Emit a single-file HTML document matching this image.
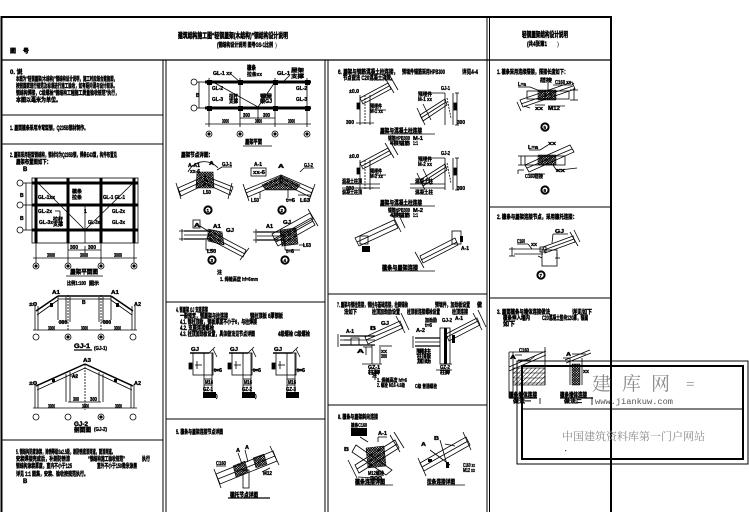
<!DOCTYPE html>
<html><head><meta charset="utf-8">
<style>
html,body{margin:0;padding:0;background:#fff;width:749px;height:530px;overflow:hidden}
svg{display:block}
.t{font-family:"Liberation Sans","Noto Sans CJK SC",sans-serif;font-weight:bold;font-size:6px;fill:#000;stroke:#000;stroke-width:0.4}
.s{font-size:5px;stroke-width:0.35}
.b{font-size:7.5px;stroke-width:0.5}
</style></head><body>
<svg width="749" height="530" viewBox="0 0 749 530" xmlns="http://www.w3.org/2000/svg">
<defs>
<pattern id="x" width="2.5" height="2.5" patternUnits="userSpaceOnUse"><path d="M0 0L2.5 2.5M2.5 0L0 2.5" stroke="#000" stroke-width="0.8"/></pattern>
<pattern id="h" width="3" height="3" patternUnits="userSpaceOnUse" patternTransform="rotate(45)"><line x1="0" y1="0" x2="0" y2="3" stroke="#000" stroke-width="1"/></pattern>
<g id="colA" fill="none" stroke="#000" stroke-width="0.8">
<line x1="0" y1="0" x2="0" y2="30"/><line x1="10" y1="0" x2="10" y2="30"/><line x1="5" y1="0" x2="5" y2="30" stroke-dasharray="2 1"/>
<polygon points="0,3 28,-12 31,-6 3,9"/><line x1="2" y1="6" x2="29" y2="-9"/>
<line x1="25" y1="-17" x2="34" y2="-2"/><line x1="30" y1="-19" x2="38" y2="-5"/>
<line x1="-4" y1="28" x2="14" y2="28"/><line x1="10" y1="15" x2="26" y2="15"/>
<rect x="-3" y="8" width="2.5" height="6" fill="#000"/>
</g>
<g id="colB" fill="none" stroke="#000" stroke-width="0.8">
<line x1="0" y1="0" x2="0" y2="32"/><line x1="8" y1="0" x2="8" y2="32"/>
<polygon points="-25,22 0,6 2,12 -22,28"/><line x1="-24" y1="25" x2="1" y2="9"/>
<line x1="-28" y1="15" x2="-20" y2="32"/><line x1="-22" y1="11" x2="-14" y2="27"/>
<line x1="12" y1="0" x2="12" y2="32"/><line x1="10" y1="0" x2="14" y2="0"/><line x1="10" y1="32" x2="14" y2="32"/>
<line x1="-20" y1="0" x2="0" y2="0"/><rect x="9" y="10" width="2.5" height="7" fill="#000"/>
<line x1="2" y1="5" x2="6" y2="25" stroke-dasharray="2 1"/>
</g>
<g id="cap" fill="none" stroke="#000" stroke-width="0.8">
<rect x="0" y="0" width="20" height="22"/>
<line x1="11" y1="0" x2="11" y2="40"/><line x1="19" y1="0" x2="19" y2="40"/>
<line x1="-3" y1="0" x2="16" y2="0" stroke-width="1.5"/>
<line x1="16" y1="0" x2="22" y2="-6"/><line x1="20" y1="-4" x2="24" y2="4"/>
<line x1="4" y1="8" x2="4" y2="16"/><line x1="2" y1="12" x2="9" y2="12"/>
<line x1="19" y1="17" x2="26" y2="17"/>
<line x1="11" y1="26" x2="19" y2="26"/><line x1="11" y1="32" x2="19" y2="32"/>
<rect x="-4" y="10" width="3" height="6" fill="#000"/>
</g>
</defs>

<!-- FRAME -->
<g fill="none" stroke="#000">
<path d="M1.5 512V17H611V512" stroke-width="2"/>
<line x1="1.5" y1="60" x2="611" y2="60" stroke-width="1.2"/>
<line x1="163" y1="60" x2="163" y2="512" stroke-width="1"/>
<line x1="166" y1="60" x2="166" y2="512" stroke-width="1"/>
<line x1="325" y1="60" x2="325" y2="512" stroke-width="1"/>
<line x1="328" y1="60" x2="328" y2="512" stroke-width="1"/>
<line x1="487" y1="17" x2="487" y2="512" stroke-width="1"/>
<line x1="489.5" y1="17" x2="489.5" y2="512" stroke-width="1"/>
<line x1="1.5" y1="115" x2="163" y2="115"/>
<line x1="1.5" y1="144" x2="163" y2="144"/>
<line x1="1.5" y1="440" x2="163" y2="440"/>
<line x1="166" y1="302" x2="325" y2="302"/>
<line x1="166" y1="419" x2="325" y2="419"/>
<line x1="328" y1="294" x2="487" y2="294"/>
<line x1="328" y1="405" x2="487" y2="405"/>
<line x1="489.5" y1="207" x2="611" y2="207"/>
<line x1="489.5" y1="298" x2="611" y2="298"/>
</g>

<!-- TITLE TEXT -->
<g class="t">
<text x="178" y="38" class="b" textLength="110" lengthAdjust="spacingAndGlyphs">建筑结构施工图“轻钢屋架(木结构)”钢结构设计说明</text>
<text x="217" y="47" textLength="56" lengthAdjust="spacingAndGlyphs">(钢结构设计说明 图号GS-1比例</text>
<text x="275" y="47" font-weight="normal" stroke-width="0">)</text>
<text x="10" y="53">图</text><text x="23" y="53">号</text>
<text x="522" y="37" class="b" textLength="46" lengthAdjust="spacingAndGlyphs">轻钢屋架结构设计说明</text>
<text x="527" y="46" textLength="20" lengthAdjust="spacingAndGlyphs">(共4张第1</text>
<text x="557" y="46" font-weight="normal" stroke-width="0">)</text>
</g>

<!-- LEFT COLUMN TEXT -->
<g class="t">
<text x="10" y="74">0. 说</text>
<text x="16" y="81" textLength="101" lengthAdjust="spacingAndGlyphs">本图为“轻钢屋架(木结构)”钢结构设计说明，施工时应结合建施图，</text>
<text x="16" y="88" textLength="101" lengthAdjust="spacingAndGlyphs">按照国家现行规范及标准进行施工验收，如有疑问请与设计联系。</text>
<text x="16" y="95" textLength="103" lengthAdjust="spacingAndGlyphs">钢结构焊接，C级螺栓“钢结构工程施工质量验收规范”执行，</text>
<text x="16" y="102" textLength="45" lengthAdjust="spacingAndGlyphs">本图以毫米为单位。</text>
<text x="10" y="130" textLength="78" lengthAdjust="spacingAndGlyphs">1. 屋面檩条采用冷弯型钢，Q235B钢材制作。</text>
<text x="10" y="157" textLength="107" lengthAdjust="spacingAndGlyphs">2. 屋架采用轻型钢结构，钢材均为Q235B钢，焊条E43型，构件布置见</text>
<text x="16" y="164" textLength="35" lengthAdjust="spacingAndGlyphs">屋架布置图如下：</text>
<text x="23" y="171">B</text>
</g>

<!-- LEFT PLAN -->
<g fill="none" stroke="#000" stroke-width="0.8">
<rect x="32" y="178" width="106" height="65"/>
<g stroke-width="3">
<line x1="32" y1="183" x2="138" y2="183"/><line x1="32" y1="205" x2="138" y2="205"/><line x1="32" y1="230" x2="138" y2="230"/>
<line x1="36" y1="178" x2="36" y2="243"/><line x1="68" y1="178" x2="68" y2="243"/><line x1="101" y1="178" x2="101" y2="243"/><line x1="134" y1="178" x2="134" y2="243"/>
</g>
<line x1="38" y1="183" x2="85" y2="230"/><line x1="133" y1="183" x2="85" y2="230"/>
<line x1="85" y1="205" x2="85" y2="243"/>
<circle cx="20" cy="183" r="3"/><circle cx="20" cy="205" r="3"/><circle cx="20" cy="230" r="3"/>
<line x1="23" y1="183" x2="32" y2="183"/><line x1="23" y1="205" x2="32" y2="205"/><line x1="23" y1="230" x2="32" y2="230"/>
<line x1="26" y1="183" x2="26" y2="230"/>
<line x1="36" y1="243" x2="36" y2="263"/><line x1="68" y1="243" x2="68" y2="263"/><line x1="101" y1="243" x2="101" y2="263"/><line x1="134" y1="243" x2="134" y2="263"/>
<line x1="68" y1="250" x2="101" y2="250"/><line x1="85" y1="246" x2="85" y2="253"/>
<line x1="33" y1="258" x2="137" y2="258"/>
<circle cx="36" cy="266" r="3"/><circle cx="68" cy="266" r="3"/><circle cx="101" cy="266" r="3"/><circle cx="134" cy="266" r="3"/>
<line x1="55" y1="211" x2="60" y2="211"/><line x1="60" y1="211" x2="60" y2="222"/>
<line x1="66" y1="276" x2="103" y2="276"/>
</g>
<g fill="#000">
<circle cx="36" cy="266" r="1.6"/><circle cx="68" cy="266" r="1.6"/><circle cx="101" cy="266" r="1.6"/><circle cx="134" cy="266" r="1.6"/>
</g>
<g class="t s">
<text x="38" y="199" textLength="17" lengthAdjust="spacingAndGlyphs">GL-1xx</text>
<text x="72" y="193" textLength="10" lengthAdjust="spacingAndGlyphs">檩条</text>
<text x="72" y="199" textLength="10" lengthAdjust="spacingAndGlyphs">拉条</text>
<text x="103" y="199" textLength="22" lengthAdjust="spacingAndGlyphs">GL-1 GL-1</text>
<text x="38" y="213" textLength="14" lengthAdjust="spacingAndGlyphs">GL-2x</text>
<text x="84" y="213">1</text>
<text x="39" y="224" textLength="14" lengthAdjust="spacingAndGlyphs">GL-3x</text>
<text x="53" y="221" textLength="10" lengthAdjust="spacingAndGlyphs">拉杆</text>
<text x="53" y="226" textLength="10" lengthAdjust="spacingAndGlyphs">支撑</text>
<text x="88" y="224" textLength="12" lengthAdjust="spacingAndGlyphs">GL-3x</text>
<text x="112" y="213" textLength="13" lengthAdjust="spacingAndGlyphs">GL-2x</text>
<text x="112" y="224" textLength="13" lengthAdjust="spacingAndGlyphs">GL-3x</text>
<text x="20" y="197">B</text><text x="20" y="220">B</text>
<text x="70" y="249" textLength="8" lengthAdjust="spacingAndGlyphs">300</text>
<text x="88" y="249" textLength="8" lengthAdjust="spacingAndGlyphs">300</text>
<text x="47" y="257" textLength="8" lengthAdjust="spacingAndGlyphs">3000</text>
<text x="80" y="257" textLength="8" lengthAdjust="spacingAndGlyphs">3000</text>
<text x="114" y="257" textLength="8" lengthAdjust="spacingAndGlyphs">3000</text>
</g>
<g class="t">
<text x="70" y="274" textLength="28" lengthAdjust="spacingAndGlyphs">屋架平面图</text>
<text x="67" y="285" class="s" textLength="19" lengthAdjust="spacingAndGlyphs">比例1:100</text>
<text x="89" y="285" class="s" textLength="10" lengthAdjust="spacingAndGlyphs">图示</text>
</g>

<!-- ELEVATION 1 -->
<g fill="none" stroke="#000" stroke-width="0.8">
<line x1="58" y1="296" x2="111" y2="296" stroke-width="1.5"/><line x1="58" y1="299" x2="111" y2="299"/>
<line x1="36" y1="311" x2="58" y2="296" stroke-width="1.5"/><line x1="37" y1="315" x2="58" y2="300"/>
<line x1="111" y1="296" x2="133" y2="311" stroke-width="1.5"/><line x1="111" y1="300" x2="132" y2="315"/>
<line x1="35" y1="306" x2="35" y2="330"/><line x1="38" y1="306" x2="38" y2="330"/>
<line x1="132" y1="306" x2="132" y2="330"/><line x1="135" y1="306" x2="135" y2="330"/>
<line x1="66" y1="297" x2="66" y2="322"/><line x1="70" y1="297" x2="70" y2="322"/><line x1="68" y1="295" x2="68" y2="330" stroke-dasharray="2 1"/>
<line x1="99" y1="297" x2="99" y2="322"/><line x1="103" y1="297" x2="103" y2="322"/><line x1="101" y1="295" x2="101" y2="330" stroke-dasharray="2 1"/>
<line x1="58" y1="296" x2="58" y2="320"/><line x1="111" y1="296" x2="111" y2="320"/>
<line x1="33" y1="330" x2="137" y2="330"/>
<circle cx="36" cy="337" r="3"/><circle cx="68" cy="337" r="3"/><circle cx="101" cy="337" r="3"/><circle cx="133" cy="337" r="3"/>
<line x1="58" y1="322" x2="68" y2="322"/><line x1="101" y1="322" x2="111" y2="322"/>
<line x1="74" y1="350" x2="92" y2="350" stroke-width="1.2"/>
</g>
<g fill="#000"><circle cx="68" cy="337" r="1.6"/><circle cx="101" cy="337" r="1.6"/><rect x="50" y="303" width="3" height="4"/><rect x="116" y="303" width="3" height="4"/></g>
<g class="t s">
<text x="52" y="294" textLength="8" lengthAdjust="spacingAndGlyphs">A1</text>
<text x="111" y="294" textLength="8" lengthAdjust="spacingAndGlyphs">A1</text>
<text x="29" y="306" textLength="8" lengthAdjust="spacingAndGlyphs">±0</text>
<text x="134" y="306" textLength="7" lengthAdjust="spacingAndGlyphs">A2</text>
<text x="82" y="304">B</text>
<text x="59" y="324" textLength="8" lengthAdjust="spacingAndGlyphs">300</text>
<text x="103" y="324" textLength="8" lengthAdjust="spacingAndGlyphs">300</text>
<text x="48" y="330" textLength="7" lengthAdjust="spacingAndGlyphs">3000</text>
<text x="81" y="330" textLength="7" lengthAdjust="spacingAndGlyphs">3000</text>
<text x="114" y="330" textLength="7" lengthAdjust="spacingAndGlyphs">3000</text>
<text x="94" y="350" textLength="13" lengthAdjust="spacingAndGlyphs">(GJ-1)</text>
</g>
<g class="t"><text x="74" y="348" textLength="16" lengthAdjust="spacingAndGlyphs">GJ-1</text></g>

<!-- ELEVATION 2 -->
<g fill="none" stroke="#000" stroke-width="0.8">
<line x1="36" y1="386" x2="85" y2="364" stroke-width="1.5"/><line x1="37" y1="390" x2="85" y2="368"/>
<line x1="85" y1="364" x2="133" y2="386" stroke-width="1.5"/><line x1="85" y1="368" x2="132" y2="390"/>
<line x1="85" y1="364" x2="85" y2="410" stroke-dasharray="2 1"/>
<line x1="66" y1="374" x2="66" y2="402"/><line x1="70" y1="372" x2="70" y2="402"/>
<line x1="99" y1="372" x2="99" y2="402"/><line x1="103" y1="374" x2="103" y2="402"/>
<line x1="35" y1="384" x2="35" y2="408"/><line x1="38" y1="384" x2="38" y2="408"/>
<line x1="131" y1="384" x2="131" y2="408"/><line x1="134" y1="384" x2="134" y2="408"/>
<line x1="68" y1="402" x2="101" y2="402"/>
<line x1="33" y1="408" x2="137" y2="408"/>
<circle cx="36" cy="417" r="3"/><circle cx="68" cy="417" r="3"/><circle cx="101" cy="417" r="3"/><circle cx="133" cy="417" r="3"/>
<line x1="70" y1="376" x2="78" y2="376"/>
</g>
<g fill="#000"><circle cx="101" cy="417" r="1.6"/><rect x="52" y="379" width="3" height="3"/><rect x="114" y="379" width="3" height="3"/></g>
<g class="t s">
<text x="83" y="362" textLength="8" lengthAdjust="spacingAndGlyphs">A3</text>
<text x="72" y="378" textLength="6" lengthAdjust="spacingAndGlyphs">A2</text>
<text x="29" y="385" textLength="8" lengthAdjust="spacingAndGlyphs">±0</text>
<text x="134" y="385" textLength="7" lengthAdjust="spacingAndGlyphs">A2</text>
<text x="73" y="401" textLength="6" lengthAdjust="spacingAndGlyphs">300</text>
<text x="90" y="401" textLength="7" lengthAdjust="spacingAndGlyphs">300</text>
<text x="48" y="408" textLength="7" lengthAdjust="spacingAndGlyphs">3000</text>
<text x="82" y="408" textLength="7" lengthAdjust="spacingAndGlyphs">3000</text>
<text x="115" y="408" textLength="7" lengthAdjust="spacingAndGlyphs">3000</text>
<text x="94" y="431" textLength="13" lengthAdjust="spacingAndGlyphs">(GJ-2)</text>
</g>
<g class="t"><text x="74" y="426" textLength="14" lengthAdjust="spacingAndGlyphs">GJ-2</text><text x="74" y="432" textLength="17" lengthAdjust="spacingAndGlyphs">剖面图</text></g>

<!-- LEFT SECTION 5 TEXT -->
<g class="t">
<text x="16" y="454" textLength="99" lengthAdjust="spacingAndGlyphs">5. 钢结构防腐涂装，除锈等级Sa2.5级，刷防锈底漆两道，面漆两道。</text>
<text x="16" y="461" textLength="54" lengthAdjust="spacingAndGlyphs">安装焊接完成后，补刷防锈漆</text>
<text x="88" y="461" textLength="37" lengthAdjust="spacingAndGlyphs">“钢结构施工验收规范”</text>
<text x="142" y="461" textLength="8" lengthAdjust="spacingAndGlyphs">执行</text>
<text x="16" y="468" textLength="56" lengthAdjust="spacingAndGlyphs">钢结构涂装厚度，室内不小于125</text>
<text x="97" y="468" textLength="40" lengthAdjust="spacingAndGlyphs">室外不小于150微米涂层</text>
<text x="16" y="476" textLength="72" lengthAdjust="spacingAndGlyphs">详见 1:1 图集，安装、验收按规范执行。</text>
<text x="23" y="483">B</text>
</g>

<!-- MIDDLE TOP PLAN -->
<g fill="none" stroke="#000" stroke-width="0.8">
<line x1="205" y1="82" x2="311" y2="82" stroke-width="3"/><line x1="205" y1="108" x2="311" y2="108" stroke-width="3"/>
<line x1="209" y1="78" x2="209" y2="127"/><line x1="240" y1="78" x2="240" y2="127"/><line x1="275" y1="78" x2="275" y2="127"/><line x1="307" y1="78" x2="307" y2="127"/>
<line x1="213" y1="82" x2="258" y2="107"/><line x1="275" y1="82" x2="258" y2="107"/>
<circle cx="194" cy="82" r="3"/><circle cx="194" cy="108" r="3"/>
<line x1="197" y1="82" x2="205" y2="82"/><line x1="197" y1="108" x2="205" y2="108"/>
<line x1="199" y1="82" x2="199" y2="108"/>
<line x1="240" y1="118" x2="275" y2="118"/><line x1="258" y1="108" x2="258" y2="122"/>
<line x1="205" y1="124" x2="311" y2="124"/>
<circle cx="209" cy="134" r="3"/><circle cx="240" cy="134" r="3"/><circle cx="275" cy="134" r="3"/><circle cx="307" cy="134" r="3"/>
<line x1="243" y1="146" x2="272" y2="146"/>
<line x1="232" y1="75" x2="240" y2="82"/><line x1="290" y1="75" x2="283" y2="82"/>
</g>
<g fill="#000">
<rect x="207" y="80" width="5" height="5"/><rect x="238" y="80" width="5" height="5"/><rect x="273" y="80" width="5" height="5"/><rect x="305" y="80" width="5" height="5"/>
<rect x="207" y="106" width="5" height="5"/><rect x="238" y="106" width="5" height="5"/><rect x="273" y="106" width="5" height="5"/><rect x="305" y="106" width="5" height="5"/>
<circle cx="209" cy="134" r="1.6"/><circle cx="240" cy="134" r="1.6"/><circle cx="275" cy="134" r="1.6"/><circle cx="307" cy="134" r="1.6"/>
</g>
<g class="t s">
<text x="213" y="75" textLength="19" lengthAdjust="spacingAndGlyphs">GL-1 xx</text>
<text x="247" y="70" class="t" textLength="9" lengthAdjust="spacingAndGlyphs">檩条</text>
<text x="247" y="76" textLength="15" lengthAdjust="spacingAndGlyphs">拉条xx</text>
<text x="277" y="75" textLength="13" lengthAdjust="spacingAndGlyphs">GL-1</text>
<text x="291" y="72" textLength="13" lengthAdjust="spacingAndGlyphs">屋架</text>
<text x="291" y="78" textLength="13" lengthAdjust="spacingAndGlyphs">支撑</text>
<text x="212" y="90" textLength="11" lengthAdjust="spacingAndGlyphs">GL-2</text>
<text x="296" y="90" textLength="11" lengthAdjust="spacingAndGlyphs">GL-2</text>
<text x="212" y="101" textLength="11" lengthAdjust="spacingAndGlyphs">GL-3</text>
<text x="229" y="98" textLength="9" lengthAdjust="spacingAndGlyphs">拉杆</text>
<text x="229" y="103" textLength="9" lengthAdjust="spacingAndGlyphs">支撑</text>
<text x="260" y="98" textLength="12" lengthAdjust="spacingAndGlyphs">钢屋</text>
<text x="260" y="103" textLength="12" lengthAdjust="spacingAndGlyphs">架GJ</text>
<text x="296" y="101" textLength="11" lengthAdjust="spacingAndGlyphs">GL-3</text>
<text x="196" y="97">B</text>
<text x="243" y="117" textLength="7" lengthAdjust="spacingAndGlyphs">300</text>
<text x="263" y="117" textLength="7" lengthAdjust="spacingAndGlyphs">300</text>
<text x="222" y="123" textLength="7" lengthAdjust="spacingAndGlyphs">3000</text>
<text x="255" y="123" textLength="7" lengthAdjust="spacingAndGlyphs">3000</text>
<text x="288" y="123" textLength="7" lengthAdjust="spacingAndGlyphs">3000</text>
</g>
<g class="t"><text x="245" y="144" textLength="17" lengthAdjust="spacingAndGlyphs">屋架平面</text>
<text x="181" y="157" textLength="32" lengthAdjust="spacingAndGlyphs">屋架节点详图：</text></g>

<!-- MIDDLE NODE DETAILS -->
<g fill="none" stroke="#000" stroke-width="0.8">
<polygon points="178,188 205,176 208,183 181,196"/><line x1="179" y1="192" x2="206" y2="180"/>
<polygon points="205,176 233,187 230,195 204,183"/><line x1="205" y1="180" x2="232" y2="191"/>
<line x1="176" y1="183" x2="181" y2="199"/><line x1="232" y1="183" x2="228" y2="199"/>
<path d="M188 172 A18 18 0 0 1 218 168"/>
<line x1="217" y1="170" x2="222" y2="167"/><line x1="222" y1="167" x2="232" y2="167"/>
<polygon points="245,190 281,175 283,182 248,197"/><line x1="246" y1="193" x2="282" y2="178"/>
<polygon points="281,175 313,189 310,197 280,182"/><line x1="281" y1="178" x2="312" y2="193"/>
<line x1="243" y1="184" x2="249" y2="201"/><line x1="315" y1="184" x2="309" y2="201"/>
<rect x="251" y="168" width="15" height="8"/>
<line x1="300" y1="172" x2="304" y2="168"/><line x1="304" y1="168" x2="314" y2="168"/>
<line x1="260" y1="192" x2="260" y2="199"/><line x1="288" y1="190" x2="288" y2="198"/><line x1="298" y1="195" x2="310" y2="195"/>
<line x1="184" y1="231" x2="212" y2="231" stroke-width="1.2"/><line x1="184" y1="235" x2="212" y2="235"/><line x1="184" y1="239" x2="212" y2="239" stroke-width="1.2"/>
<polygon points="210,231 246,250 243,257 207,238"/><line x1="209" y1="235" x2="245" y2="254"/>
<line x1="182" y1="229" x2="182" y2="241"/><line x1="179" y1="231" x2="185" y2="231"/><line x1="179" y1="239" x2="185" y2="239"/>
<line x1="240" y1="260" x2="249" y2="248"/>
<rect x="193" y="220" width="7" height="8"/><line x1="200" y1="226" x2="208" y2="231"/>
<line x1="206" y1="240" x2="206" y2="250"/><line x1="206" y1="250" x2="216" y2="250"/>
<line x1="257" y1="232" x2="285" y2="232" stroke-width="1.2"/><line x1="257" y1="236" x2="285" y2="236"/><line x1="257" y1="240" x2="285" y2="240" stroke-width="1.2"/>
<polygon points="274,239 311,218 315,225 278,246"/><line x1="276" y1="242" x2="313" y2="221"/>
<polygon points="272,234 310,213 313,219 275,240"/>
<line x1="256" y1="229" x2="256" y2="243"/><line x1="253" y1="232" x2="259" y2="232"/><line x1="253" y1="240" x2="259" y2="240"/>
<line x1="308" y1="209" x2="318" y2="226"/>
<line x1="285" y1="241" x2="285" y2="250"/><line x1="285" y1="250" x2="300" y2="250"/>
<line x1="299" y1="245" x2="305" y2="245"/>
</g>
<g stroke="#000" stroke-width="0.6">
<polygon points="197,172 213,172 214,188 196,188" fill="url(#x)"/>
<polygon points="262,185 281,176 300,185 296,190 266,190" fill="url(#x)"/>
<polygon points="208,229 222,232 224,245 208,241" fill="url(#x)"/>
<polygon points="280,230 296,228 298,244 282,246" fill="url(#x)"/>
</g>
<g fill="none" stroke="#000" stroke-width="2">
<circle cx="208" cy="210" r="3.6"/><circle cx="282" cy="210" r="3.6"/><circle cx="212" cy="260" r="3.6"/><circle cx="285" cy="260" r="3.6"/>
</g>
<g class="t s">
<text x="206.5" y="212" font-size="4.5">1</text><text x="280.5" y="212" font-size="4.5">2</text><text x="210.5" y="262" font-size="4.5">3</text><text x="283.5" y="262" font-size="4.5">4</text>
<text x="188" y="167" textLength="12" lengthAdjust="spacingAndGlyphs">A-A1</text>
<text x="190" y="173" textLength="10" lengthAdjust="spacingAndGlyphs">xx-6</text>
<text x="209" y="165" textLength="5" lengthAdjust="spacingAndGlyphs">A</text>
<text x="222" y="166" textLength="10" lengthAdjust="spacingAndGlyphs">GJ-1</text>
<text x="203" y="194" textLength="8" lengthAdjust="spacingAndGlyphs">L50</text>
<text x="254" y="166" textLength="8" lengthAdjust="spacingAndGlyphs">A-1</text>
<text x="253" y="174" textLength="12" lengthAdjust="spacingAndGlyphs">xx-6</text>
<text x="278" y="168" textLength="6" lengthAdjust="spacingAndGlyphs">A</text>
<text x="304" y="167" textLength="9" lengthAdjust="spacingAndGlyphs">GJ-2</text>
<text x="251" y="202" textLength="8" lengthAdjust="spacingAndGlyphs">L50</text>
<text x="286" y="202" textLength="9" lengthAdjust="spacingAndGlyphs">t=6</text>
<text x="300" y="202" textLength="10" lengthAdjust="spacingAndGlyphs">L63</text>
<text x="194" y="227" textLength="6" lengthAdjust="spacingAndGlyphs">A</text>
<text x="213" y="228" textLength="8" lengthAdjust="spacingAndGlyphs">A1</text>
<text x="226" y="232" textLength="8" lengthAdjust="spacingAndGlyphs">GJ</text>
<text x="207" y="253" textLength="9" lengthAdjust="spacingAndGlyphs">L50</text>
<text x="266" y="228" textLength="7" lengthAdjust="spacingAndGlyphs">A1</text>
<text x="283" y="224" textLength="8" lengthAdjust="spacingAndGlyphs">GJ</text>
<text x="303" y="247" textLength="8" lengthAdjust="spacingAndGlyphs">L63</text>
<text x="286" y="253" textLength="8" lengthAdjust="spacingAndGlyphs">t=6</text>
<text x="217" y="274">注</text>
<text x="220" y="281" textLength="38" lengthAdjust="spacingAndGlyphs">1. 焊缝高度 hf=6mm</text>
</g>

<!-- MIDDLE SECTION 4 -->
<g class="t">
<text x="176" y="312" textLength="32" lengthAdjust="spacingAndGlyphs">4. 钢屋架 GJ 支座连接</text>
<text x="180" y="318" textLength="48" lengthAdjust="spacingAndGlyphs">一般规定，钢屋架与柱连接</text>
<text x="250" y="318" textLength="33" lengthAdjust="spacingAndGlyphs">钢柱顶板 6厚钢板</text>
<text x="180" y="324" textLength="77" lengthAdjust="spacingAndGlyphs">4.1. 钢柱顶板，钢板厚度不小于6，与柱焊接</text>
<text x="180" y="330" textLength="34" lengthAdjust="spacingAndGlyphs">4.2. 支座连接螺栓</text>
<text x="180" y="336" textLength="75" lengthAdjust="spacingAndGlyphs">4.3. 柱顶加劲板设置，具体做法见节点详图</text>
<text x="278" y="336" textLength="32" lengthAdjust="spacingAndGlyphs">4级螺栓 C级螺栓</text>
</g>
<use href="#cap" x="193" y="353"/>
<use href="#cap" x="232" y="353"/>
<use href="#cap" x="276" y="353"/>
<g fill="#000">
<rect x="203" y="392" width="13" height="6"/><rect x="242" y="392" width="13" height="6"/><rect x="286" y="392" width="13" height="6"/>
</g>
<g class="t s">
<text x="191" y="351" textLength="8" lengthAdjust="spacingAndGlyphs">GJ</text>
<text x="230" y="351" textLength="8" lengthAdjust="spacingAndGlyphs">GJ</text>
<text x="274" y="351" textLength="8" lengthAdjust="spacingAndGlyphs">GJ</text>
<text x="214" y="372" textLength="8" lengthAdjust="spacingAndGlyphs">t=6</text>
<text x="253" y="372" textLength="8" lengthAdjust="spacingAndGlyphs">t=6</text>
<text x="297" y="372" textLength="8" lengthAdjust="spacingAndGlyphs">t=6</text>
<text x="205" y="384" textLength="8" lengthAdjust="spacingAndGlyphs">M16</text>
<text x="244" y="384" textLength="8" lengthAdjust="spacingAndGlyphs">M16</text>
<text x="288" y="384" textLength="8" lengthAdjust="spacingAndGlyphs">M16</text>
<text x="203" y="391" textLength="10" lengthAdjust="spacingAndGlyphs">GZ-1</text>
<text x="242" y="391" textLength="10" lengthAdjust="spacingAndGlyphs">GZ-2</text>
<text x="286" y="391" textLength="10" lengthAdjust="spacingAndGlyphs">GZ-3</text>
<text x="216" y="398">)</text><text x="255" y="398">)</text>
</g>

<!-- MIDDLE SECTION 5 -->
<g class="t"><text x="176" y="434" textLength="47" lengthAdjust="spacingAndGlyphs">5. 檩条与屋架连接节点详图</text></g>
<g fill="none" stroke="#000" stroke-width="0.8">
<polygon points="216,474 273,451 277,461 220,484"/>
<line x1="218" y1="479" x2="275" y2="456"/>
<line x1="214" y1="469" x2="221" y2="488"/><line x1="270" y1="446" x2="279" y2="465"/>
<rect x="243" y="470" width="6" height="18"/>
<line x1="216" y1="466" x2="226" y2="466"/>
<line x1="238" y1="453" x2="242" y2="464"/><line x1="245" y1="450" x2="248" y2="462"/>
<line x1="262" y1="472" x2="270" y2="468"/>
<line x1="228" y1="498" x2="270" y2="498" stroke-width="1.2"/>
</g>
<g stroke="#000" stroke-width="0.5">
<polygon points="233,466 245,461 248,472 236,477" fill="url(#x)"/>
<polygon points="253,458 264,454 267,464 256,468" fill="url(#x)"/>
</g>
<g class="t s">
<text x="216" y="465" textLength="10" lengthAdjust="spacingAndGlyphs">C160</text>
<text x="236" y="452" textLength="4" lengthAdjust="spacingAndGlyphs">A</text>
<text x="245" y="449" textLength="4" lengthAdjust="spacingAndGlyphs">A</text>
<text x="263" y="475" textLength="9" lengthAdjust="spacingAndGlyphs">M12</text>
</g>
<g class="t"><text x="230" y="497" textLength="28" lengthAdjust="spacingAndGlyphs">檩托节点详图</text></g>

<!-- THIRD COLUMN SECTION 6 -->
<g class="t">
<text x="338" y="74" textLength="60" lengthAdjust="spacingAndGlyphs">6. 屋架与钢筋混凝土柱连接，</text>
<text x="402" y="74" textLength="43" lengthAdjust="spacingAndGlyphs">预埋件锚筋采用HPB300</text>
<text x="462" y="74" textLength="16" lengthAdjust="spacingAndGlyphs">详见4-4</text>
<text x="343" y="80" textLength="52" lengthAdjust="spacingAndGlyphs">节点做法 C20混凝土浇筑。</text>
</g>
<use href="#colA" x="360" y="95"/>
<use href="#colB" x="445" y="93"/>
<use href="#colA" x="360" y="160"/>
<use href="#colB" x="445" y="158"/>
<g fill="none" stroke="#000" stroke-width="0.8">
<line x1="380" y1="134" x2="435" y2="134"/>
<line x1="380" y1="206" x2="435" y2="206"/>
<line x1="342" y1="184" x2="380" y2="184"/><line x1="342" y1="188" x2="380" y2="188"/>
<line x1="410" y1="184" x2="445" y2="184"/><line x1="410" y1="188" x2="445" y2="188"/>
<polygon points="355,238 394,220 398,228 359,246"/><line x1="357" y1="242" x2="396" y2="224"/>
<line x1="392" y1="214" x2="401" y2="232"/><line x1="397" y1="211" x2="405" y2="228"/>
<rect x="360" y="236" width="8" height="8"/>
<polygon points="420,256 455,238 458,245 423,263"/><line x1="421" y1="260" x2="457" y2="242"/>
<rect x="452" y="231" width="9" height="13"/>
<line x1="415" y1="252" x2="424" y2="268"/>
<line x1="382" y1="271" x2="435" y2="271"/>
</g>
<g fill="#000">
<rect x="362" y="246" width="8" height="6"/><rect x="460" y="236" width="3" height="6"/>
</g>
<g class="t s">
<text x="349" y="93" textLength="10" lengthAdjust="spacingAndGlyphs">±0.0</text>
<text x="370" y="108" textLength="12" lengthAdjust="spacingAndGlyphs">预埋件</text>
<text x="370" y="113" textLength="13" lengthAdjust="spacingAndGlyphs">M-1 xx</text>
<text x="346" y="124" textLength="8" lengthAdjust="spacingAndGlyphs">300</text>
<text x="418" y="96" textLength="14" lengthAdjust="spacingAndGlyphs">预埋件</text>
<text x="418" y="101" textLength="14" lengthAdjust="spacingAndGlyphs">M-1 xx</text>
<text x="441" y="90" textLength="9" lengthAdjust="spacingAndGlyphs">GJ-1</text>
<text x="457" y="124" textLength="8" lengthAdjust="spacingAndGlyphs">300</text>
<text x="388" y="140" textLength="22" lengthAdjust="spacingAndGlyphs">锚筋HPB300</text>
<text x="413" y="140" textLength="10" lengthAdjust="spacingAndGlyphs">M-1</text>
<text x="390" y="145" textLength="20" lengthAdjust="spacingAndGlyphs">4根锚筋</text>
<text x="413" y="145" textLength="5" lengthAdjust="spacingAndGlyphs">1:1</text>
<text x="349" y="158" textLength="10" lengthAdjust="spacingAndGlyphs">±0.0</text>
<text x="370" y="173" textLength="12" lengthAdjust="spacingAndGlyphs">预埋件</text>
<text x="370" y="178" textLength="13" lengthAdjust="spacingAndGlyphs">M-2 xx</text>
<text x="346" y="190" textLength="8" lengthAdjust="spacingAndGlyphs">300</text>
<text x="342" y="183" textLength="20" lengthAdjust="spacingAndGlyphs">混凝土柱顶</text>
<text x="342" y="194" textLength="20" lengthAdjust="spacingAndGlyphs">混凝土柱顶</text>
<text x="418" y="161" textLength="14" lengthAdjust="spacingAndGlyphs">预埋件</text>
<text x="418" y="166" textLength="14" lengthAdjust="spacingAndGlyphs">M-2 xx</text>
<text x="441" y="155" textLength="9" lengthAdjust="spacingAndGlyphs">GJ-2</text>
<text x="415" y="183" textLength="18" lengthAdjust="spacingAndGlyphs">混凝土柱</text>
<text x="415" y="194" textLength="18" lengthAdjust="spacingAndGlyphs">混凝土柱</text>
<text x="457" y="190" textLength="8" lengthAdjust="spacingAndGlyphs">300</text>
<text x="388" y="212" textLength="22" lengthAdjust="spacingAndGlyphs">锚筋HPB300</text>
<text x="413" y="212" textLength="10" lengthAdjust="spacingAndGlyphs">M-2</text>
<text x="390" y="217" textLength="20" lengthAdjust="spacingAndGlyphs">4根锚筋</text>
<text x="413" y="217" textLength="5" lengthAdjust="spacingAndGlyphs">1:1</text>
<text x="461" y="250" textLength="8" lengthAdjust="spacingAndGlyphs">A-1</text>
</g>
<g class="t">
<text x="380" y="133" textLength="42" lengthAdjust="spacingAndGlyphs">屋架与混凝土柱连接</text>
<text x="380" y="205" textLength="42" lengthAdjust="spacingAndGlyphs">屋架与混凝土柱连接</text>
<text x="382" y="270" textLength="36" lengthAdjust="spacingAndGlyphs">檩条与屋架连接</text>
</g>

<!-- THIRD COLUMN SECTION 7 -->
<g class="t">
<text x="337" y="307" textLength="71" lengthAdjust="spacingAndGlyphs">7. 屋架与钢柱连接，钢柱与基础连接，柱脚锚栓</text>
<text x="435" y="307" textLength="35" lengthAdjust="spacingAndGlyphs">预埋件，加劲板设置</text>
<text x="477" y="307" textLength="5" lengthAdjust="spacingAndGlyphs">做</text>
<text x="344" y="314" textLength="13" lengthAdjust="spacingAndGlyphs">法如下</text>
<text x="372" y="314" textLength="28" lengthAdjust="spacingAndGlyphs">柱顶加劲肋设置</text>
<text x="407" y="314" textLength="33" lengthAdjust="spacingAndGlyphs">柱顶板连接螺栓设置</text>
<text x="452" y="314" textLength="16" lengthAdjust="spacingAndGlyphs">柱顶连接</text>
</g>
<g fill="none" stroke="#000" stroke-width="0.8">
<line x1="340" y1="336" x2="375" y2="336" stroke-width="1.2"/><line x1="340" y1="345" x2="375" y2="345" stroke-width="1.2"/><line x1="340" y1="340" x2="375" y2="340"/>
<line x1="372" y1="345" x2="372" y2="364"/><line x1="380" y1="345" x2="380" y2="364"/>
<polygon points="365,337 400,321 403,328 368,344"/><line x1="366" y1="340" x2="401" y2="325"/>
<line x1="396" y1="316" x2="405" y2="333"/><line x1="401" y1="313" x2="409" y2="330"/>
<line x1="338" y1="334" x2="338" y2="347"/>
<rect x="351" y="338" width="8" height="7"/>
<line x1="344" y1="340" x2="351" y2="340"/>
<line x1="363" y1="347" x2="372" y2="347"/><line x1="366" y1="347" x2="366" y2="355"/>
<line x1="381" y1="346" x2="392" y2="346"/>
<line x1="362" y1="364" x2="382" y2="364"/>
<line x1="415" y1="338" x2="440" y2="338" stroke-width="1.2"/><line x1="415" y1="346" x2="440" y2="346" stroke-width="1.2"/><line x1="415" y1="342" x2="440" y2="342"/>
<line x1="413" y1="336" x2="413" y2="348"/>
<rect x="440" y="328" width="10" height="36"/>
<polygon points="446,334 477,318 480,325 449,341"/><line x1="447" y1="337" x2="478" y2="321"/>
<line x1="473" y1="313" x2="482" y2="330"/><line x1="478" y1="310" x2="486" y2="327"/>
<line x1="440" y1="364" x2="452" y2="364"/><line x1="436" y1="370" x2="452" y2="370"/>
<line x1="417" y1="348" x2="417" y2="355"/>
<line x1="375" y1="375" x2="375" y2="380"/>
</g>
<g fill="#000"><rect x="444" y="328" width="3" height="36"/><rect x="452" y="335" width="3" height="8"/></g>
<g class="t s">
<text x="346" y="333" textLength="8" lengthAdjust="spacingAndGlyphs">A-1</text>
<text x="370" y="330" textLength="6" lengthAdjust="spacingAndGlyphs">B</text>
<text x="381" y="325" textLength="8" lengthAdjust="spacingAndGlyphs">GJ</text>
<text x="381" y="353" textLength="6" lengthAdjust="spacingAndGlyphs">xx</text>
<text x="381" y="358" textLength="6" lengthAdjust="spacingAndGlyphs">300</text>
<text x="357" y="353" textLength="7" lengthAdjust="spacingAndGlyphs">A</text>
<text x="368" y="369" textLength="12" lengthAdjust="spacingAndGlyphs">GZ-1</text>
<text x="368" y="374" textLength="12" lengthAdjust="spacingAndGlyphs">柱脚</text>
<text x="416" y="332" textLength="9" lengthAdjust="spacingAndGlyphs">A-2</text>
<text x="425" y="322" textLength="12" lengthAdjust="spacingAndGlyphs">加劲肋</text>
<text x="425" y="327" textLength="7" lengthAdjust="spacingAndGlyphs">t=6</text>
<text x="442" y="322" textLength="10" lengthAdjust="spacingAndGlyphs">GJ-2</text>
<text x="455" y="320" textLength="8" lengthAdjust="spacingAndGlyphs">A-1</text>
<text x="417" y="353" textLength="14" lengthAdjust="spacingAndGlyphs">钢柱</text>
<text x="417" y="358" textLength="14" lengthAdjust="spacingAndGlyphs">柱顶板</text>
<text x="417" y="363" textLength="14" lengthAdjust="spacingAndGlyphs">加劲</text>
<text x="440" y="369" textLength="10" lengthAdjust="spacingAndGlyphs">GZ-2</text>
<text x="440" y="374" textLength="10" lengthAdjust="spacingAndGlyphs">柱脚</text>
<text x="372" y="377" textLength="5" lengthAdjust="spacingAndGlyphs">注</text>
<text x="377" y="382" textLength="30" lengthAdjust="spacingAndGlyphs">1. 焊缝高度 hf=6</text>
<text x="377" y="387" textLength="28" lengthAdjust="spacingAndGlyphs">2. 螺栓 M16 4.6级</text>
<text x="415" y="388" textLength="22" lengthAdjust="spacingAndGlyphs">C级 普通螺栓</text>
</g>

<!-- THIRD COLUMN SECTION 8 -->
<g class="t"><text x="338" y="419" textLength="40" lengthAdjust="spacingAndGlyphs">8. 檩条与屋架斜向连接</text></g>
<g fill="none" stroke="#000" stroke-width="0.8">
<polygon points="355,465 395,440 399,448 359,473"/><line x1="357" y1="469" x2="397" y2="444"/>
<polygon points="356,445 392,470 386,475 352,452" />
<line x1="390" y1="435" x2="400" y2="452"/><line x1="394" y1="432" x2="404" y2="448"/>
<line x1="358" y1="477" x2="374" y2="478"/><line x1="348" y1="460" x2="357" y2="478"/>
<line x1="360" y1="437" x2="368" y2="442"/>
<line x1="378" y1="437" x2="378" y2="442"/><line x1="378" y1="437" x2="387" y2="437"/>
<polygon points="420,463 466,437 470,445 424,471"/><line x1="422" y1="467" x2="468" y2="441"/>
<line x1="418" y1="458" x2="426" y2="476"/><line x1="463" y1="432" x2="471" y2="450"/>
<line x1="430" y1="450" x2="450" y2="465"/>
<line x1="440" y1="440" x2="448" y2="468"/>
<line x1="445" y1="444" x2="455" y2="446"/>
<line x1="355" y1="485" x2="393" y2="485"/>
<line x1="427" y1="485" x2="465" y2="485"/>
</g>
<g stroke="#000" stroke-width="0.5">
<polygon points="366,448 384,446 386,466 368,468" fill="url(#x)"/>
</g>
<g fill="#000"><rect x="351" y="428" width="16" height="8"/><rect x="428" y="459" width="4" height="3"/><rect x="446" y="462" width="3" height="6"/></g>
<g class="t s">
<text x="351" y="427" textLength="16" lengthAdjust="spacingAndGlyphs">檩条C160</text>
<text x="378" y="435" textLength="9" lengthAdjust="spacingAndGlyphs">A-1</text>
<text x="344" y="451" textLength="5" lengthAdjust="spacingAndGlyphs">B</text>
<text x="368" y="475" textLength="16" lengthAdjust="spacingAndGlyphs">M12螺栓</text>
<text x="370" y="480" textLength="12" lengthAdjust="spacingAndGlyphs">300</text>
<text x="421" y="446" textLength="5" lengthAdjust="spacingAndGlyphs">A</text>
<text x="434" y="440" textLength="5" lengthAdjust="spacingAndGlyphs">B</text>
<text x="463" y="467" textLength="12" lengthAdjust="spacingAndGlyphs">C160 xx</text>
<text x="463" y="472" textLength="12" lengthAdjust="spacingAndGlyphs">M12 xx</text>
</g>
<g class="t">
<text x="355" y="484" textLength="30" lengthAdjust="spacingAndGlyphs">檩条连接详图</text>
<text x="427" y="484" textLength="28" lengthAdjust="spacingAndGlyphs">拉条连接详图</text>
</g>

<!-- RIGHT COLUMN -->
<g class="t">
<text x="497" y="74" textLength="71" lengthAdjust="spacingAndGlyphs">1. 檩条采用连续搭接，搭接长度如下：</text>
<text x="497" y="219" textLength="80" lengthAdjust="spacingAndGlyphs">2. 檩条与屋架连接节点，采用檩托连接：</text>
<text x="497" y="314" textLength="53" lengthAdjust="spacingAndGlyphs">3. 屋面檩条与墙体连接做法</text>
<text x="572" y="314" textLength="20" lengthAdjust="spacingAndGlyphs">详见如下</text>
<text x="503" y="320" textLength="27" lengthAdjust="spacingAndGlyphs">檩条伸入墙内</text>
<text x="542" y="320" textLength="46" lengthAdjust="spacingAndGlyphs">C20混凝土垫块120厚，锚固</text>
<text x="503" y="326" textLength="12" lengthAdjust="spacingAndGlyphs">如下</text>
</g>
<g fill="none" stroke="#000" stroke-width="0.8">
<polygon points="520,100 572,82 575,89 523,107"/><line x1="521" y1="104" x2="573" y2="86"/>
<rect x="527" y="91" width="42" height="8"/>
<line x1="545" y1="91" x2="545" y2="99"/><line x1="551" y1="91" x2="551" y2="99"/>
<line x1="570" y1="90" x2="578" y2="90"/><line x1="574" y1="88" x2="574" y2="100"/><line x1="570" y1="100" x2="578" y2="100"/>
<line x1="517" y1="102" x2="521" y2="111"/><line x1="524" y1="106" x2="530" y2="108"/>
<line x1="518" y1="87" x2="530" y2="87"/><line x1="530" y1="87" x2="540" y2="91"/>
<line x1="548" y1="83" x2="548" y2="90"/>
<line x1="553" y1="85" x2="572" y2="85"/><line x1="572" y1="85" x2="574" y2="83"/>
<line x1="535" y1="105" x2="545" y2="105"/><line x1="548" y1="106" x2="565" y2="106"/>
<polygon points="525,165 570,145 574,152 529,172"/><line x1="527" y1="168" x2="572" y2="149"/>
<rect x="525" y="156" width="40" height="9"/>
<line x1="518" y1="156" x2="525" y2="156"/><line x1="521" y1="156" x2="521" y2="165"/><line x1="518" y1="165" x2="525" y2="165"/>
<line x1="542" y1="156" x2="542" y2="165"/><line x1="548" y1="156" x2="548" y2="165"/>
<line x1="518" y1="170" x2="524" y2="170"/><line x1="518" y1="170" x2="518" y2="174"/>
<line x1="528" y1="174" x2="545" y2="174"/><line x1="553" y1="165" x2="557" y2="171"/>
<line x1="560" y1="170" x2="577" y2="168"/>
<line x1="529" y1="150" x2="540" y2="150"/><line x1="540" y1="150" x2="548" y2="145"/>
<line x1="514" y1="249" x2="543" y2="249"/><line x1="514" y1="254" x2="543" y2="254"/>
<line x1="512" y1="247" x2="512" y2="256"/><line x1="509" y1="249" x2="515" y2="249"/><line x1="509" y1="256" x2="515" y2="256"/>
<rect x="542" y="250" width="15" height="16"/>
<rect x="540" y="247" width="6" height="5"/>
<polygon points="543,247 573,236 575,242 545,253"/><line x1="544" y1="250" x2="574" y2="239"/>
<line x1="570" y1="232" x2="578" y2="246"/><line x1="574" y1="230" x2="580" y2="242"/>
<line x1="517" y1="244" x2="528" y2="244"/><line x1="528" y1="244" x2="532" y2="249"/>
<line x1="553" y1="234" x2="568" y2="234"/><line x1="553" y1="234" x2="552" y2="243"/>
<line x1="538" y1="256" x2="542" y2="258"/><line x1="557" y1="253" x2="557" y2="258"/><line x1="555" y1="258" x2="560" y2="258"/>
<line x1="509" y1="352" x2="545" y2="352"/><line x1="509" y1="352" x2="509" y2="398"/><line x1="513" y1="352" x2="513" y2="398"/>
<line x1="509" y1="367" x2="546" y2="351"/><line x1="509" y1="371" x2="546" y2="355"/>
<line x1="545" y1="347" x2="545" y2="385"/>
<line x1="518" y1="360" x2="530" y2="360"/><line x1="530" y1="360" x2="535" y2="356"/>
<line x1="515" y1="355" x2="522" y2="355"/>
<line x1="509" y1="398" x2="537" y2="398" stroke-width="1.2"/>
<line x1="570" y1="358" x2="570" y2="385"/><line x1="582" y1="358" x2="582" y2="385"/>
<line x1="565" y1="360" x2="590" y2="350"/><line x1="566" y1="363" x2="591" y2="353"/>
<line x1="572" y1="354" x2="586" y2="354"/>
<line x1="563" y1="358" x2="570" y2="358"/>
<line x1="560" y1="398" x2="593" y2="398" stroke-width="1.2"/>
<line x1="577" y1="398" x2="577" y2="404"/><line x1="540" y1="398" x2="540" y2="404"/>
</g>
<rect x="513" y="368" width="32" height="17" fill="url(#h)" stroke="#000" stroke-width="0.6"/>
<g stroke="#000" stroke-width="0.5">
<line x1="513" y1="373" x2="545" y2="373"/><line x1="513" y1="378" x2="545" y2="378"/><line x1="513" y1="383" x2="545" y2="383"/>
<polygon points="572,364 580,364 580,385 572,385" fill="url(#x)"/>
<polygon points="538,90 556,90 556,100 538,100" fill="url(#x)"/>
<polygon points="538,155 556,155 556,165 538,165" fill="url(#x)"/>
</g>
<g fill="none" stroke="#000" stroke-width="2">
<circle cx="545" cy="127" r="3.6"/><circle cx="545" cy="190" r="3.6"/><circle cx="541" cy="275" r="3.6"/>
</g>
<g class="t s">
<text x="543.5" y="129" font-size="4.5">5</text><text x="543.5" y="192" font-size="4.5">6</text><text x="539.5" y="277" font-size="4.5">7</text>
<text x="518" y="86" textLength="8" lengthAdjust="spacingAndGlyphs">L=a</text>
<text x="540" y="82" textLength="12" lengthAdjust="spacingAndGlyphs">搭接</text>
<text x="555" y="84" textLength="16" lengthAdjust="spacingAndGlyphs">C160 xx</text>
<text x="535" y="110" textLength="8" lengthAdjust="spacingAndGlyphs">xx</text>
<text x="548" y="110" textLength="12" lengthAdjust="spacingAndGlyphs">M12</text>
<text x="528" y="149" textLength="10" lengthAdjust="spacingAndGlyphs">L=a</text>
<text x="548" y="145" textLength="8" lengthAdjust="spacingAndGlyphs">xx</text>
<text x="525" y="178" textLength="18" lengthAdjust="spacingAndGlyphs">C160搭接</text>
<text x="556" y="172" textLength="9" lengthAdjust="spacingAndGlyphs">xx</text>
<text x="517" y="243" textLength="8" lengthAdjust="spacingAndGlyphs">C160</text>
<text x="555" y="233" textLength="9" lengthAdjust="spacingAndGlyphs">GJ</text>
<text x="531" y="246" textLength="6" lengthAdjust="spacingAndGlyphs">xx</text>
<text x="519" y="352" textLength="10" lengthAdjust="spacingAndGlyphs">C160</text>
<text x="510" y="359" textLength="6" lengthAdjust="spacingAndGlyphs">A</text>
<text x="566" y="356" textLength="5" lengthAdjust="spacingAndGlyphs">A</text>
<text x="583" y="373" textLength="6" lengthAdjust="spacingAndGlyphs">xx</text>
</g>
<g class="t">
<text x="509" y="397" textLength="28" lengthAdjust="spacingAndGlyphs">檩条墙体连接</text>
<text x="513" y="403" class="s" textLength="18" lengthAdjust="spacingAndGlyphs">做法一</text>
<text x="560" y="397" textLength="27" lengthAdjust="spacingAndGlyphs">檩条墙体连接</text>
<text x="564" y="403" class="s" textLength="18" lengthAdjust="spacingAndGlyphs">做法二</text>
</g>

<!-- WATERMARK BOX -->
<g fill="none" stroke="#000">
<rect x="517" y="361" width="231" height="103" stroke-width="1"/>
<rect x="522" y="366" width="221" height="93" stroke-width="2"/>
<line x1="522" y1="409" x2="743" y2="409" stroke-width="1"/>
<line x1="592" y1="397" x2="592" y2="405" stroke-width="0.8"/>
</g>
<g font-family="'Liberation Serif','Noto Serif CJK SC',serif" fill="#8a8a8a">
<text x="592" y="390" font-size="19">建</text>
<text x="622" y="390" font-size="19">库</text>
<text x="651" y="390" font-size="19">网</text>
<text x="686" y="389" font-size="15">=</text>
<text x="562" y="440" font-size="11" textLength="143" lengthAdjust="spacingAndGlyphs">中国建筑资料库第一门户网站</text>
</g>
<text x="595" y="404" font-family="'Liberation Mono',monospace" font-size="8.7" fill="#555" textLength="78" lengthAdjust="spacingAndGlyphs">www.jiankuw.com</text>
<rect x="565" y="450" width="1.2" height="1.2" fill="#444"/>
</svg>
</body></html>
